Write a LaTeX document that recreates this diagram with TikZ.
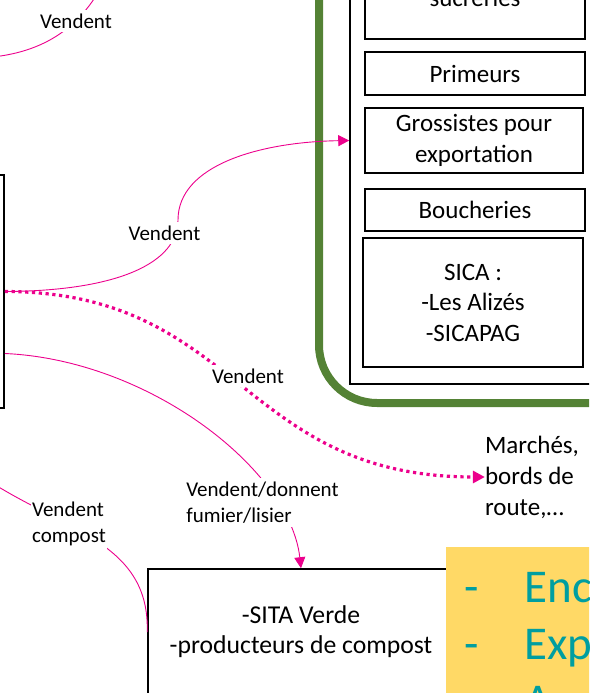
\documentclass[tikz,border=0pt]{standalone}
\usepackage{fontspec}
\setmainfont{Carlito}
\usetikzlibrary{positioning,arrows.meta}

\definecolor{rose}{RGB}{236,0,140}
\definecolor{vert}{RGB}{84,130,53}
\definecolor{jaune}{RGB}{255,217,102}
\definecolor{sarcelle}{RGB}{0,158,160}

\begin{document}
\begin{tikzpicture}[x=1pt, y=-1pt,
        boite/.style={draw, rectangle, line width=1.6pt, minimum width=220pt, align=center, font=\fontsize{25}{30.5}\selectfont},
        etiq/.style={fill=white, inner xsep=1pt, inner ysep=4pt, font=\fontsize{21}{26}\selectfont},
        puce/.style={inner sep=0pt, text=sarcelle, font=\fontsize{47}{57}\selectfont},
        lien/.style={rose, line width=0.9pt},
        fleche/.style={lien, -{Triangle[length=11pt, width=11pt]}},
        pointille/.style={rose, line width=3.2pt, dash pattern=on 3.2pt off 3.6pt, -{Triangle[length=12pt, width=12pt]}}
    ]
        \useasboundingbox (0,0) rectangle (589,693);
        \clip (0,0) rectangle (589,693);

        % Acheteurs (cadre vert)
        \node[draw=vert, line width=8pt, rounded corners=58pt, minimum width=341pt, minimum height=483pt] (circuit) at (489.5,161.5) {};
        \node[draw, line width=1.5pt, minimum width=270pt, minimum height=404pt] (acheteurs) at (485,182) {};
        \node[boite, minimum height=79pt] (sucreries) at (475,-0.5) {};
        \node[anchor=base, inner sep=0pt, font=\fontsize{25}{30.5}\selectfont] (sucrtxt) at (475,7) {sucreries};
        \node[boite, minimum height=43pt] (primeurs) at (475,73.5) {Primeurs};
        \node[boite, minimum width=218pt, minimum height=65pt] (grossistes) at (474,140.5) {Grossistes pour\\exportation};
        \node[boite, minimum height=42pt] (boucheries) at (475,210) {Boucheries};
        \node[boite, minimum height=129pt] (sica) at (473,302.5) {SICA :\\-Les Alizés\\-SICAPAG};

        % Producteurs
        \node[draw, line width=1.6pt, minimum width=100pt, minimum height=233pt] (exploit) at (-46,291.5) {};

        % Autres destinations
        \node[align=left, inner sep=0pt, font=\fontsize{25}{31}\selectfont] (marches) at (532,477) {Marchés,\\bords de\\route,…};
        \node[boite, minimum width=306pt, minimum height=126pt, font=\fontsize{25.7}{30}\selectfont] (sita) at (301,632) {-SITA Verde\\-producteurs de compost};

        % Cadre jaune
        \node[fill=jaune, minimum width=220pt, minimum height=200pt, anchor=north west] (conseil) at (446,547) {};
        \node[puce, anchor=base west] (puce1) at (464.5,602) {\makebox[60pt][l]{-}Enc};
        \node[puce, anchor=base west] (puce2) at (464.5,659) {\makebox[60pt][l]{-}Exp};
        \node[puce, anchor=base west] (puce3) at (464.5,716) {\makebox[60pt][l]{-}A};

        % Liens
        \coordinate (hautgauche) at (-20,58);
        \coordinate (hautdroite) at (105,-20);
        \coordinate (compostgauche) at (-20,475);

        \draw[lien] (hautgauche) .. controls (40,55) and (80,30) .. (hautdroite);
        \draw[fleche] (exploit.east) .. controls (120,291) and (178,262) .. (178,220)
            .. controls (178,165) and (260,142) .. (acheteurs.west |- grossistes);
        \draw[pointille] (exploit.east) .. controls (240,292) and (240,477) .. (marches.west);
        \draw[fleche] ([yshift=-62pt]exploit.east) .. controls (150,360) and (290,470) .. (sita.north);
        \draw[lien] (compostgauche) .. controls (60,530) and (150,540) .. (sita.west);

        % Etiquettes
        \node[etiq] (vend1) at (76,21) {Vendent};
        \node[etiq] (vend2) at (164.5,233) {Vendent};
        \node[etiq] (vend3) at (248,376) {Vendent};
        \node[etiq, align=left] (vend4) at (262.5,502.5) {Vendent/donnent\\fumier/lisier};
        \node[etiq, align=left] (vend5) at (69,524) {Vendent\\compost};
    \end{tikzpicture}
\end{document}
